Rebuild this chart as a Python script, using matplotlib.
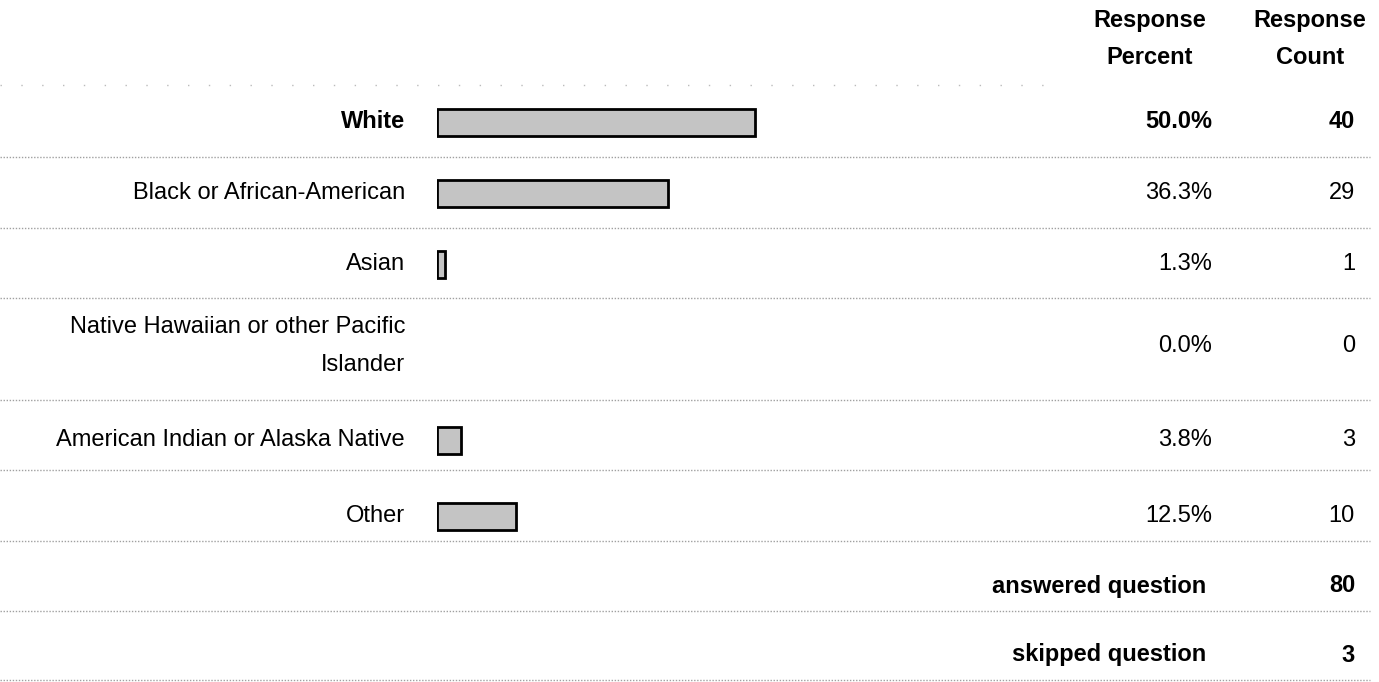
import matplotlib.pyplot as plt

# survey data
categories = ['White', 'Black or African-American', 'Asian',
              'Native Hawaiian or other Pacific\nIslander',
              'American Indian or Alaska Native', 'Other']
percents = [50.0, 36.3, 1.3, 0.0, 3.8, 12.5]
counts = [40, 29, 1, 0, 3, 10]
answered = 80
skipped = 3

# layout (pixel rows, top-down)
W, H = 1379, 682
row_y = [122, 193, 264, 346, 440, 516]
sep_y = [157, 228, 298, 400, 470, 541, 611, 680]
summary_y = [586, 655]
bar_left, bar_full = 437, 636   # px where 0% starts, px for 100%

plt.rcParams['font.family'] = ['Liberation Sans', 'DejaVu Sans']
fs = 17

fig = plt.figure(figsize=(W / 100, H / 100), dpi=100)
bg = fig.add_axes([0, 0, 1, 1])
bg.set_xlim(0, W)
bg.set_ylim(H, 0)
bg.axis('off')

# bar axes shares the pixel rows, x is percent
ax = fig.add_axes([bar_left / W, 0, bar_full / W, 1])
ax.set_xlim(0, 100)
ax.set_ylim(H, 0)
ax.axis('off')
# no outline for empty bars
edges = [2 if p > 0 else 0 for p in percents]
ax.barh(row_y, percents, height=27, color='#c4c4c4',
        edgecolor='black', linewidth=edges)

# header
hdr = dict(ha='center', va='center', fontsize=fs, fontweight='bold')
bg.text(1150, 20, 'Response', **hdr)
bg.text(1150, 58, 'Percent', **hdr)
bg.text(1310, 20, 'Response', **hdr)
bg.text(1310, 58, 'Count', **hdr)

# separators
bg.plot([0, 1050], [85, 85], color='#bbbbbb', lw=1, ls=(0, (1, 14)))
for y in sep_y:
    bg.plot([0, 1370], [y, y], color='#a0a0a0', lw=1, ls=(0, (1, 1.2)))

# rows
for i, (cat, p, c, y) in enumerate(zip(categories, percents, counts, row_y)):
    w = 'bold' if i == 0 else 'normal'
    bg.text(405, y, cat, ha='right', va='center', fontsize=fs, fontweight=w,
            linespacing=1.9, multialignment='right')
    bg.text(1212, y, f'{p:.1f}%', ha='right', va='center', fontsize=fs, fontweight=w)
    bg.text(1355, y, str(c), ha='right', va='center', fontsize=fs, fontweight=w)

for label, val, y in zip(['answered question', 'skipped question'],
                         [answered, skipped], summary_y):
    bg.text(1206, y, label, ha='right', va='center', fontsize=fs, fontweight='bold')
    bg.text(1355, y, str(val), ha='right', va='center', fontsize=fs, fontweight='bold')

fig.savefig('out.png', dpi=100)
